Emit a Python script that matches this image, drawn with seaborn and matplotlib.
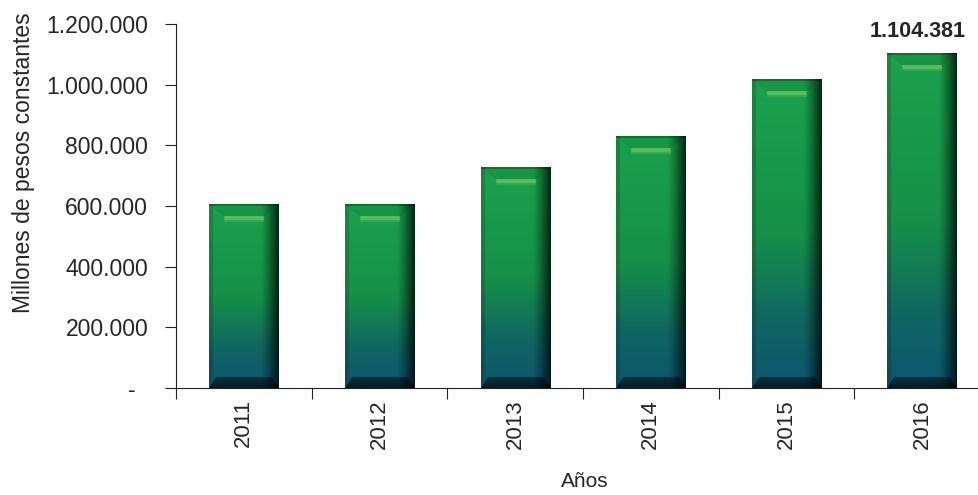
import numpy as np
import seaborn as sns
import matplotlib
matplotlib.use('Agg')
from matplotlib import pyplot as plt
from matplotlib.ticker import FuncFormatter

#-------------------------- Data ----------------------------------------------
years = ['2011', '2012', '2013', '2014', '2015', '2016']
values = [605000, 605000, 727000, 830000, 1018000, 1104381]
label_value = 1104381

#-------------------------- Style ---------------------------------------------
sns.set_style('ticks')
plt.rcParams['font.family'] = ['Liberation Sans', 'DejaVu Sans']

fig = plt.figure(figsize=(9.79, 4.95), dpi=100)
ax = fig.add_axes([176 / 979, 107 / 495, 1 - 176 / 979, 364 / 495])

sns.barplot(x=years, y=values, width=0.51, color='#139040', ax=ax)


def bar_image(h_px, w_px):
    """gradient + bevel look of the original bars"""
    t = np.linspace(0, 1, h_px)
    stops = np.array([0.0, 0.5, 0.78, 1.0])
    cols = np.array([[26, 162, 76], [22, 144, 72], [16, 102, 98], [12, 86, 112]]) / 255
    base = np.stack([np.interp(t, stops, cols[:, k]) for k in range(3)], axis=1)
    img = np.repeat(base[:, None, :], w_px, axis=1)
    xs = np.linspace(0, 1, w_px)
    # side shading: thin left edge, dark right side
    shade = np.ones(w_px)
    shade[xs < 0.05] = 0.85
    shade = np.where(xs > 0.74, 1 - ((xs - 0.74) / 0.26) ** 1.2 * 0.75, shade)
    img = img * shade[None, :, None]
    # dark bottom bevel (trapezoid)
    for r in range(11):
        row = h_px - 1 - r
        inset = r / 11 * 0.1
        m = (xs > inset) & (xs < 1 - inset)
        img[row, m, :] = img[row, m, :] * (0.35 + 0.02 * r)
    # top bevel: dark edge line, then highlight stripe
    img[:2, :, :] *= 0.7
    for r in range(2, 12):
        inset = r / 12 * 0.2
        m = (xs > inset) & (xs < 1 - inset)
        img[r, m, :] = img[r, m, :] * 0.93
    hl = (xs > 0.22) & (xs < 0.78)
    img[12:16, hl, :] = np.array([88, 188, 92]) / 255
    img[16:18, hl, :] = np.array([50, 170, 80]) / 255
    return np.clip(img, 0, 1)


px_per_val = 364 / 1200000
for patch, v in zip(ax.patches, values):
    x0, w = patch.get_x(), patch.get_width()
    patch.set_facecolor('none')
    patch.set_edgecolor('none')
    h_px = max(int(v * px_per_val), 30)
    im = ax.imshow(bar_image(h_px, 69), extent=[x0, x0 + w, 0, v],
                   aspect='auto', zorder=2, interpolation='bilinear')
    im.set_clip_path(patch)

# value label on last bar
ax.text(4.97, label_value + 53000, f'{label_value:,}'.replace(',', '.'),
        ha='center', va='baseline', fontsize=15.5, fontweight='bold')

# axes formatting
ax.yaxis.set_major_formatter(FuncFormatter(
    lambda v, p: '-  ' if v == 0 else f'{int(v):,}'.replace(',', '.')))
ax.set_yticks(np.arange(0, 1200001, 200000))
ax.set_xticks(np.arange(-0.5, 6, 1))
ax.set_xticklabels([])
ax.set_xticks(np.arange(len(years)), minor=True)
ax.set_xticklabels(years, minor=True, rotation=90)
ax.tick_params(axis='x', which='minor', length=0, labelsize=16, pad=8)
ax.tick_params(axis='x', which='major', length=8, direction='out', color='#222222')
ax.tick_params(axis='y', labelsize=16.5, length=8, pad=12, color='#222222')
for s in ['top', 'right']:
    ax.spines[s].set_visible(False)
ax.spines['left'].set_color('#222222')
ax.spines['bottom'].set_color('#222222')

ax.set_ylim(0, 1200000)
ax.set_xlim(-0.5, 5.42)

ax.set_ylabel('Millones de pesos constantes', fontsize=16.5)
ax.yaxis.set_label_coords(-0.176, 0.62)
ax.set_xlabel('Años', fontsize=15)
ax.xaxis.set_label_coords(0.509, -0.232)

fig.savefig('out.png', dpi=100)
